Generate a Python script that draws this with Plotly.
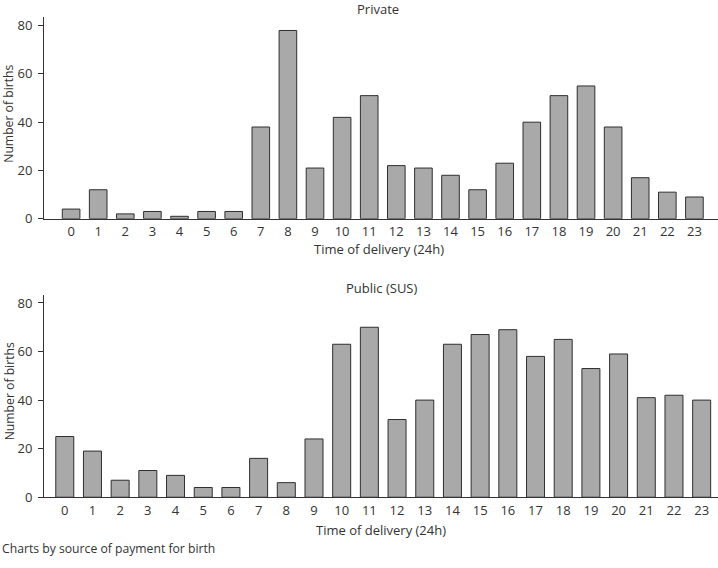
import plotly.graph_objects as go

hours = list(range(24))
hour_labels = [str(h) for h in hours]
private_births = [4, 12, 2, 3, 1, 3, 3, 38, 78, 21, 42, 51, 22, 21, 18, 12, 23, 40, 51, 55, 38, 17, 11, 9]
public_births = [25, 19, 7, 11, 9, 4, 4, 16, 6, 24, 63, 70, 32, 40, 63, 67, 69, 58, 65, 53, 59, 41, 42, 40]
y_ticks = [0, 20, 40, 60, 80]

W, H = 718, 568
FONT = "Open Sans"
TXT = "#333333"
FS = 13

def px_x(x):
    return x / W

def px_y(y):
    return 1 - y / H

fig = go.Figure()
bar_style = dict(marker=dict(color="#a9a9a9", line=dict(color="#2f2f2f", width=1)), showlegend=False)
fig.add_trace(go.Bar(x=hours, y=private_births, xaxis="x", yaxis="y", **bar_style))
fig.add_trace(go.Bar(x=hours, y=public_births, xaxis="x2", yaxis="y2", **bar_style))

axis_common = dict(showgrid=False, zeroline=False, showline=True, linecolor="#333333", linewidth=1,
                   tickfont=dict(family=FONT, size=FS, color=TXT))
xcommon = dict(tickmode="array", tickvals=hours, ticktext=hour_labels, ticks="", ticklabelstandoff=1, **axis_common)
ycommon = dict(tickvals=y_ticks, ticks="outside", ticklen=5, tickcolor="#333333", ticklabelstandoff=3, **axis_common)
fig.update_layout(
    width=W, height=H,
    margin=dict(l=0, r=0, t=0, b=0),
    paper_bgcolor="white", plot_bgcolor="white",
    bargap=0.35,
    font=dict(family=FONT, size=FS, color=TXT),
    xaxis=dict(domain=[px_x(44), 1], anchor="y", range=[-1.0, 23.87], **xcommon),
    yaxis=dict(domain=[px_y(221), px_y(15)], anchor="x", range=[0, 83.7], **ycommon),
    xaxis2=dict(domain=[px_x(44), 1], anchor="y2", range=[-0.75, 23.59], **xcommon),
    yaxis2=dict(domain=[px_y(505), px_y(299)], anchor="x2", range=[0, 83.2], **ycommon),
)

def ann(text, x, y, xanchor="center", angle=0, size=FS):
    fig.add_annotation(text=text, x=px_x(x), y=px_y(y), xref="paper", yref="paper",
                       showarrow=False, xanchor=xanchor, yanchor="middle", textangle=angle,
                       font=dict(family=FONT, size=size, color=TXT))

ann("Private", 378, 7)
ann("Time of delivery (24h)", 379, 252)
ann("Number of births", 9, 114, angle=-90, size=12.2)
ann("Public (SUS)", 381, 292)
ann("Time of delivery (24h)", 381, 538)
ann("Number of births", 9, 397, angle=-90, size=12.2)
ann("Charts by source of payment for birth", 0, 557, xanchor="left", size=12.2)

fig.write_html("out.html")
